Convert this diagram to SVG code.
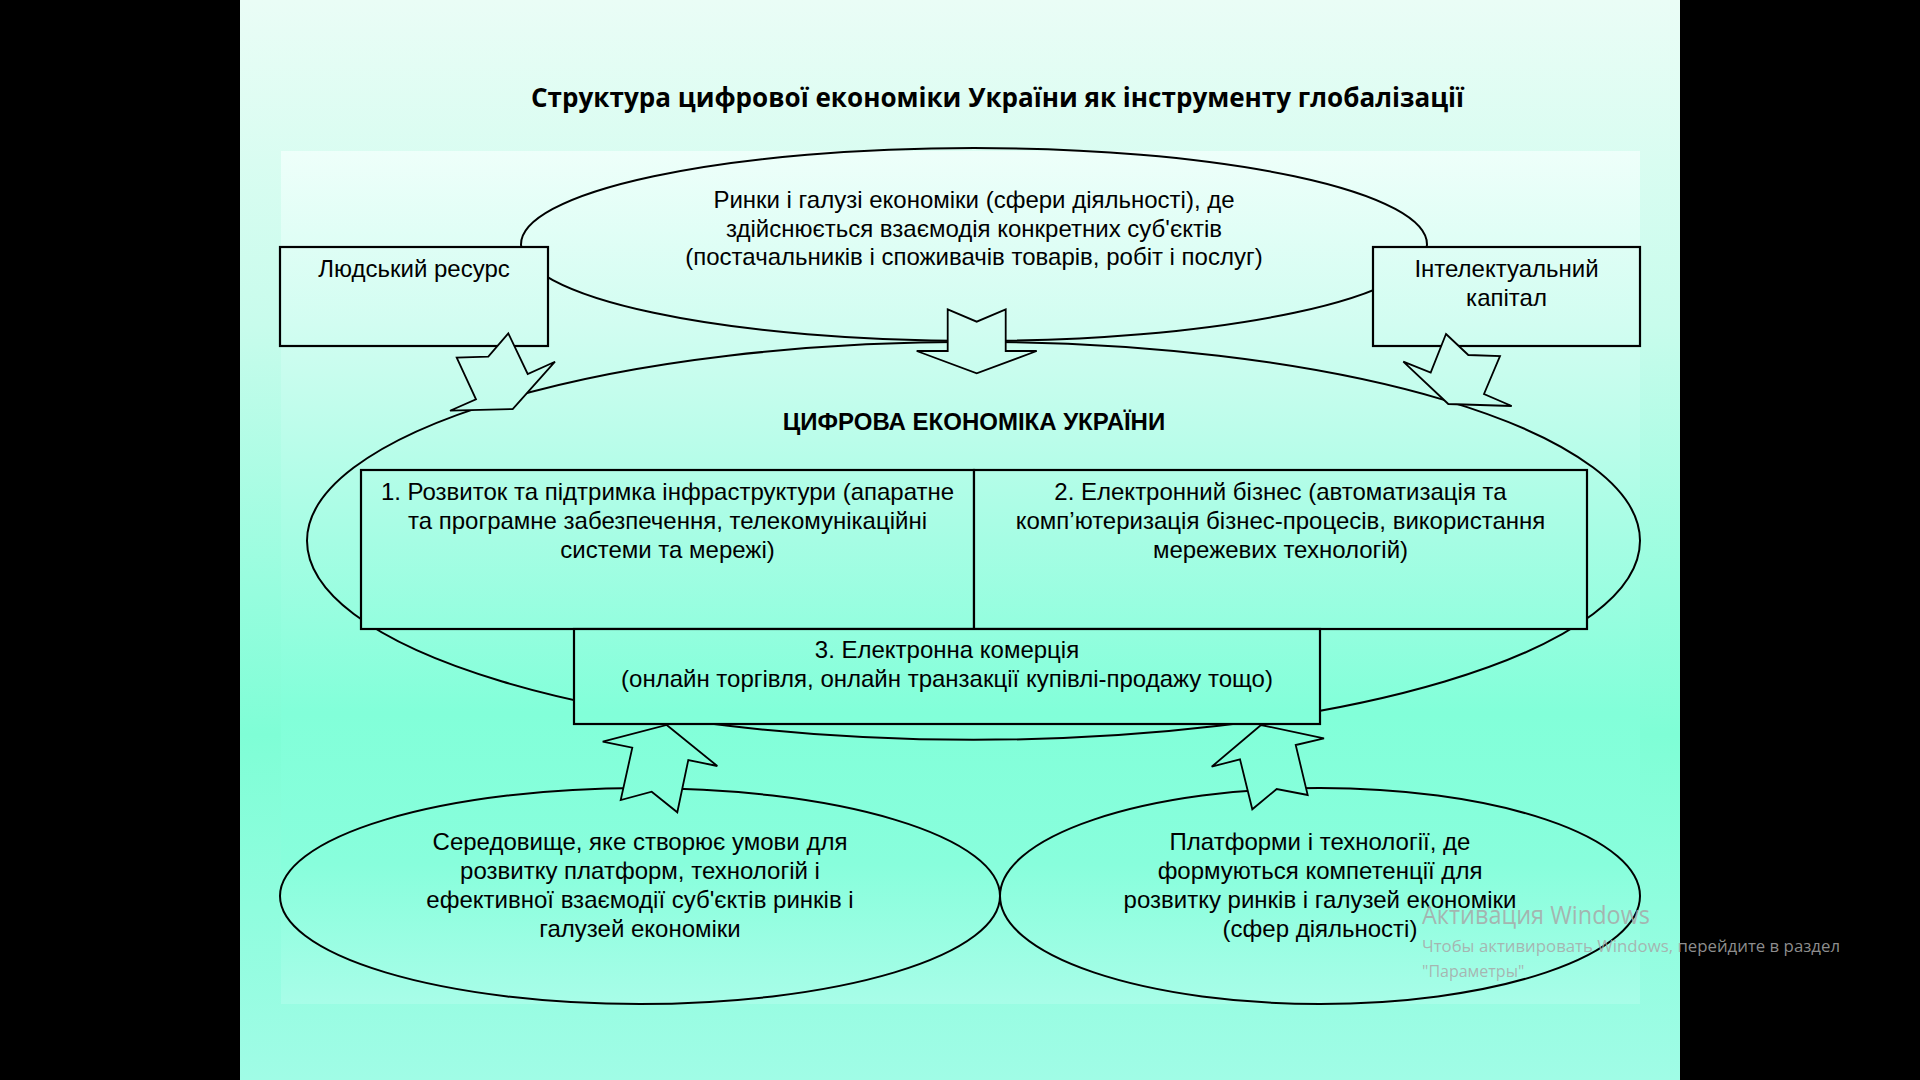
<svg xmlns="http://www.w3.org/2000/svg" width="1920" height="1080" viewBox="0 0 1920 1080">
<defs>
<linearGradient id="bg" gradientUnits="userSpaceOnUse" x1="0" y1="0" x2="0" y2="1080">
<stop offset="0" stop-color="#eafdf6"/>
<stop offset="0.3" stop-color="#c8fcec"/>
<stop offset="0.55" stop-color="#96fdde"/>
<stop offset="0.68" stop-color="#7ffed6"/>
<stop offset="1" stop-color="#a0fce6"/>
</linearGradient>
<linearGradient id="pf" gradientUnits="userSpaceOnUse" x1="0" y1="0" x2="0" y2="1080">
<stop offset="0.14" stop-color="#eefffa"/>
<stop offset="0.3" stop-color="#d2fdf1"/>
<stop offset="0.5" stop-color="#a6fde4"/>
<stop offset="0.66" stop-color="#82ffd9"/>
<stop offset="0.8" stop-color="#88fedc"/>
<stop offset="0.93" stop-color="#a8fde8"/>
</linearGradient>
<style>
.ln{fill:none;stroke:#000;stroke-width:2}
.bx{fill:url(#pf);stroke:#000;stroke-width:2.2}
.ar{fill:url(#pf);stroke:#000;stroke-width:1.8;stroke-linejoin:miter}
.t{font-family:"Liberation Sans",Arial,sans-serif;font-size:24px;fill:#000;text-anchor:middle}
.b{font-weight:bold}
.wm{font-family:"Open Sans","Noto Sans",sans-serif;fill:#a8a8a8;fill-opacity:0.85}
</style>
</defs>
<rect x="0" y="0" width="1920" height="1080" fill="#000"/>
<rect x="240" y="0" width="1440" height="1080" fill="url(#bg)"/>
<rect x="281" y="151" width="1359" height="853" fill="url(#pf)"/>
<text x="531" y="107" font-family="'Open Sans','Noto Sans',sans-serif" font-size="26" font-weight="bold" textLength="933" lengthAdjust="spacingAndGlyphs">Структура цифрової економіки України як інструменту глобалізації</text>

<g id="markets">
<ellipse class="ln" cx="974" cy="244.5" rx="453" ry="96.5"/>
<text class="t" x="974" y="208">Ринки і галузі економіки (сфери діяльності), де</text>
<text class="t" x="974" y="236.5">здійснюється взаємодія конкретних суб'єктів</text>
<text class="t" x="974" y="265">(постачальників і споживачів товарів, робіт і послуг)</text>
</g>
<g id="digital-economy">
<ellipse class="ln" cx="973.5" cy="540.8" rx="666.5" ry="199"/>
<text class="t b" x="974" y="430">ЦИФРОВА ЕКОНОМІКА УКРАЇНИ</text>
</g>
<g id="human-resource">
<rect class="bx" x="280" y="247" width="268" height="99"/>
<text class="t" x="414" y="277">Людський ресурс</text>
</g>
<g id="intellectual-capital">
<rect class="bx" x="1373" y="247" width="267" height="99"/>
<text class="t" x="1506.5" y="277">Інтелектуальний</text>
<text class="t" x="1506.5" y="306">капітал</text>
</g>
<g id="infrastructure">
<rect class="bx" x="361" y="470" width="613" height="159"/>
<text class="t" x="667.5" y="500">1. Розвиток та підтримка інфраструктури (апаратне</text>
<text class="t" x="667.5" y="529">та програмне забезпечення, телекомунікаційні</text>
<text class="t" x="667.5" y="558">системи та мережі)</text>
</g>
<g id="e-business">
<rect class="bx" x="974" y="470" width="613" height="159"/>
<text class="t" x="1280.5" y="500">2. Електронний бізнес (автоматизація та</text>
<text class="t" x="1280.5" y="529">комп’ютеризація бізнес-процесів, використання</text>
<text class="t" x="1280.5" y="558">мережевих технологій)</text>
</g>
<g id="e-commerce">
<rect class="bx" x="574" y="629" width="746" height="95"/>
<text class="t" x="947" y="658">3. Електронна комерція</text>
<text class="t" x="947" y="687">(онлайн торгівля, онлайн транзакції купівлі-продажу тощо)</text>
</g>
<g id="environment">
<ellipse class="ln" cx="640" cy="896" rx="360" ry="108"/>
<text class="t" x="640" y="850">Середовище, яке створює умови для</text>
<text class="t" x="640" y="879">розвитку платформ, технологій і</text>
<text class="t" x="640" y="908">ефективної взаємодії суб'єктів ринків і</text>
<text class="t" x="640" y="937">галузей економіки</text>
</g>
<g id="platforms">
<ellipse class="ln" cx="1320" cy="896" rx="320" ry="108"/>
<text class="t" x="1320" y="850">Платформи і технології, де</text>
<text class="t" x="1320" y="879">формуються компетенції для</text>
<text class="t" x="1320" y="908">розвитку ринків і галузей економіки</text>
<text class="t" x="1320" y="937">(сфер діяльності)</text>
</g>

<g id="connectors">
<polygon class="ar" points="947.7,309.3 976.7,321.7 1005.7,309.3 1005.7,351 1036.7,351 976.7,373.3 916.7,351 947.7,351"/>
<polygon class="ar" points="508.3,333.3 527.7,374 555,361.7 512.7,409 450,410.7 476,399.3 456.7,357.7 488.3,356.7"/>
<polygon class="ar" points="1446,334 1468.3,355 1500,356 1484,394 1511.7,406 1448.3,404 1403.3,361.7 1430.7,372.7"/>
<polygon class="ar" points="666.7,725 717.3,766 688.3,760 677.3,812.3 651.7,791.7 620.7,800 632.3,747.7 602.7,741.7"/>
<polygon class="ar" points="1261,725 1324,738.3 1295.7,745 1307.7,795 1276.7,789 1252.3,809.3 1240,759.3 1211.7,766.7"/>
</g>

<text class="wm" x="1422" y="924" font-size="25" textLength="228" lengthAdjust="spacingAndGlyphs">Активация Windows</text>
<text class="wm" x="1422" y="952" font-size="16" textLength="418" lengthAdjust="spacingAndGlyphs">Чтобы активировать Windows, перейдите в раздел</text>
<text class="wm" x="1422" y="977" font-size="16">"Параметры"</text>
</svg>
